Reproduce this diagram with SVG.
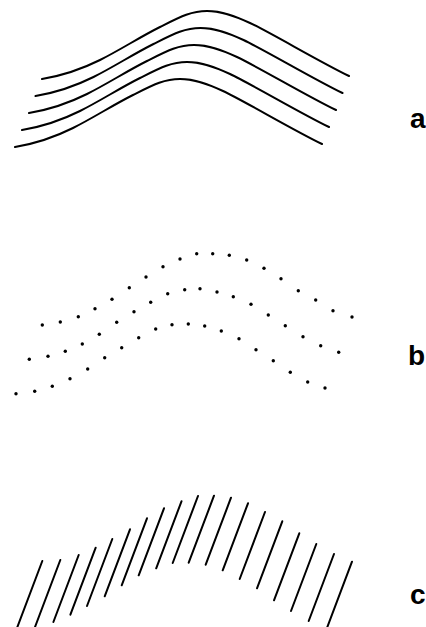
<svg xmlns="http://www.w3.org/2000/svg" xmlns:xlink="http://www.w3.org/1999/xlink" width="426" height="627" viewBox="0 0 426 627">
<style>
.wave{fill:none;stroke:#000;stroke-width:2;stroke-linecap:round}
.dot{fill:#000}
.hatch{stroke:#000;stroke-width:2;stroke-linecap:round}
.lbl{font-family:"Liberation Sans",Arial,sans-serif;font-weight:bold;font-size:28px;fill:#000}
</style>
<defs>
<path id="wv" d="M42,79 C60,76 80,70 100,60 C120,50 140,37 160,27 C180,17 191,11 207,11 C222,11 235,16 250,23 C270,32.3 320,62 349,76"/>
</defs>
<g id="panel-a">
<use xlink:href="#wv" href="#wv" class="wave"/>
<use xlink:href="#wv" href="#wv" class="wave" transform="translate(-6.5,17)"/>
<use xlink:href="#wv" href="#wv" class="wave" transform="translate(-13,34)"/>
<use xlink:href="#wv" href="#wv" class="wave" transform="translate(-20,51)"/>
<use xlink:href="#wv" href="#wv" class="wave" transform="translate(-27,68)"/>
<text class="lbl" x="410" y="128">a</text>
</g>
<g id="panel-b">
<g class="dot">
<circle cx="42.3" cy="325" r="1.7"/><circle cx="60.3" cy="322" r="1.7"/><circle cx="78.3" cy="316.7" r="1.7"/><circle cx="95" cy="308.7" r="1.7"/><circle cx="112" cy="299.3" r="1.7"/><circle cx="129.3" cy="287.7" r="1.7"/><circle cx="146" cy="277" r="1.7"/><circle cx="163" cy="266.7" r="1.7"/><circle cx="180" cy="259" r="1.7"/><circle cx="196.7" cy="253.7" r="1.7"/><circle cx="212.7" cy="253.7" r="1.7"/><circle cx="229.3" cy="255.3" r="1.7"/><circle cx="246.7" cy="260" r="1.7"/><circle cx="264" cy="268.3" r="1.7"/><circle cx="281" cy="278.7" r="1.7"/><circle cx="298.3" cy="290.7" r="1.7"/><circle cx="315.7" cy="300" r="1.7"/><circle cx="333" cy="310.7" r="1.7"/><circle cx="352" cy="317" r="1.7"/>
<circle cx="29.3" cy="359.3" r="1.7"/><circle cx="48" cy="356.3" r="1.7"/><circle cx="65.3" cy="351.3" r="1.7"/><circle cx="82.3" cy="344" r="1.7"/><circle cx="99.3" cy="334.3" r="1.7"/><circle cx="116.7" cy="322.3" r="1.7"/><circle cx="134" cy="311.7" r="1.7"/><circle cx="150.7" cy="302.3" r="1.7"/><circle cx="167.7" cy="293.7" r="1.7"/><circle cx="184.7" cy="289.7" r="1.7"/><circle cx="200" cy="288.7" r="1.7"/><circle cx="217" cy="292" r="1.7"/><circle cx="233.3" cy="296.7" r="1.7"/><circle cx="251" cy="304.3" r="1.7"/><circle cx="268.3" cy="315" r="1.7"/><circle cx="285.3" cy="325.7" r="1.7"/><circle cx="303" cy="336.7" r="1.7"/><circle cx="320.7" cy="345.7" r="1.7"/><circle cx="338.7" cy="352.3" r="1.7"/>
<circle cx="16" cy="393.7" r="1.7"/><circle cx="34.7" cy="391.3" r="1.7"/><circle cx="52.3" cy="386.3" r="1.7"/><circle cx="70" cy="378.7" r="1.7"/><circle cx="87.7" cy="369" r="1.7"/><circle cx="104.7" cy="357.7" r="1.7"/><circle cx="121.7" cy="347.7" r="1.7"/><circle cx="138.7" cy="337.7" r="1.7"/><circle cx="155.7" cy="329" r="1.7"/><circle cx="172" cy="324.7" r="1.7"/><circle cx="188.3" cy="324" r="1.7"/><circle cx="204.7" cy="326" r="1.7"/><circle cx="221.3" cy="331" r="1.7"/><circle cx="239" cy="338.7" r="1.7"/><circle cx="256" cy="349.7" r="1.7"/><circle cx="273.3" cy="360.7" r="1.7"/><circle cx="290.3" cy="372.3" r="1.7"/><circle cx="307.7" cy="382" r="1.7"/><circle cx="325" cy="388" r="1.7"/>
</g>
<text class="lbl" x="408" y="365">b</text>
</g>
<g id="panel-c">
<g class="hatch">
<line x1="42.3" y1="561" x2="17" y2="628"/>
<line x1="60.3" y1="560" x2="35" y2="627"/>
<line x1="78.7" y1="555" x2="53.4" y2="622"/>
<line x1="95.7" y1="547.7" x2="70.4" y2="614.7"/>
<line x1="112.3" y1="539" x2="87" y2="606"/>
<line x1="130" y1="529.3" x2="104.7" y2="596.3"/>
<line x1="147" y1="518.3" x2="121.7" y2="585.3"/>
<line x1="164" y1="508.3" x2="138.7" y2="575.3"/>
<line x1="181.5" y1="501.3" x2="156.2" y2="568.3"/>
<line x1="198" y1="496" x2="172.7" y2="563"/>
<line x1="214" y1="495.7" x2="188.7" y2="562.7"/>
<line x1="231" y1="497.7" x2="205.7" y2="564.7"/>
<line x1="248" y1="503.3" x2="222.7" y2="570.3"/>
<line x1="265" y1="512" x2="239.7" y2="579"/>
<line x1="282.3" y1="521.3" x2="257" y2="588.3"/>
<line x1="299.3" y1="533.3" x2="274" y2="600.3"/>
<line x1="316.3" y1="544" x2="291" y2="611"/>
<line x1="334" y1="554" x2="308.7" y2="621"/>
<line x1="352" y1="561.7" x2="326.7" y2="628.7"/>
</g>
<text class="lbl" x="410" y="604">c</text>
</g>
</svg>
